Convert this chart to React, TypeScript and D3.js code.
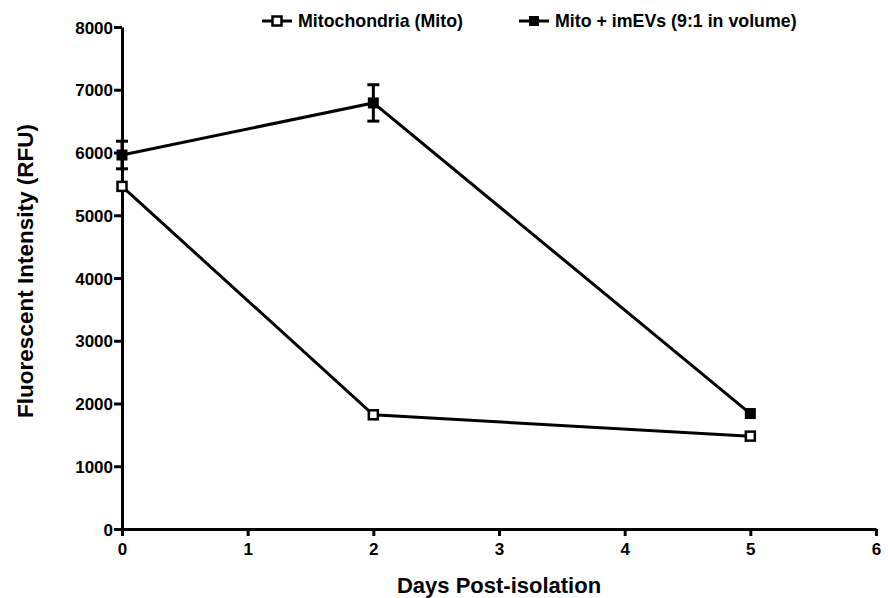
import * as d3 from "d3";
import { useEffect, useRef } from "react";

// days post-isolation
const days = [0, 2, 5];
// Mitochondria (Mito)
const mitoValues = [5460, 1820, 1480];
// Mito + imEVs (9:1 in volume), with SEM
const mixValues = [5960, 6790, 1840];
const mixErrors = [220, 290, 0];

const xTicks = [0, 1, 2, 3, 4, 5, 6];
const yTicks = [0, 1000, 2000, 3000, 4000, 5000, 6000, 7000, 8000];

const seriesNames = ["Mitochondria (Mito)", "Mito + imEVs (9:1 in volume)"];

const W = 888;
const H = 598;
const FONT = "'Liberation Sans', Arial, sans-serif";

const App = () => {
  const ref = useRef<SVGSVGElement>(null);

  useEffect(() => {
    const svg = d3.select(ref.current);
    svg.selectAll("*").remove();

    const margin = { top: 27, left: 122, right: 12, bottom: 69 };
    const x = d3.scaleLinear().domain([0, 6]).range([margin.left, W - margin.right]);
    const y = d3.scaleLinear().domain([0, 8000]).range([H - margin.bottom, margin.top]);

    // axes
    const xAxis = svg
      .append("g")
      .attr("transform", `translate(0, ${y(0)})`)
      .call(
        d3.axisBottom(x).tickValues(xTicks).tickFormat(d3.format("d"))
          .tickSize(7).tickPadding(7).tickSizeOuter(0)
      );
    const yAxis = svg
      .append("g")
      .attr("transform", `translate(${x(0)}, 0)`)
      .call(
        d3.axisLeft(y).tickValues(yTicks).tickFormat(d3.format("d"))
          .tickSize(8).tickPadding(1).tickSizeOuter(0)
      );

    [xAxis, yAxis].forEach((g) => {
      g.select(".domain").attr("stroke", "#000").attr("stroke-width", 3);
      g.selectAll(".tick line").attr("stroke", "#000").attr("stroke-width", 3);
      g.selectAll(".tick text")
        .attr("font-family", FONT)
        .attr("font-weight", "bold")
        .attr("font-size", 17)
        .attr("fill", "#000");
    });
    yAxis.selectAll(".tick text").attr("dy", "0.36em");

    // axis titles
    svg
      .append("text")
      .attr("x", (x(0) + x(6)) / 2)
      .attr("y", 593)
      .attr("text-anchor", "middle")
      .attr("font-family", FONT)
      .attr("font-weight", "bold")
      .attr("font-size", 22)
      .text("Days Post-isolation");
    svg
      .append("text")
      .attr("transform", `translate(33, 271) rotate(-90)`)
      .attr("text-anchor", "middle")
      .attr("font-family", FONT)
      .attr("font-weight", "bold")
      .attr("font-size", 22.5)
      .text("Fluorescent Intensity (RFU)");

    const line = d3
      .line<number>()
      .x((_, i) => x(days[i]))
      .y((d) => y(d));

    // error bars for the mixed series
    days.forEach((d, i) => {
      if (!mixErrors[i]) return;
      const g = svg.append("g").attr("stroke", "#000").attr("stroke-width", 3);
      g.append("line")
        .attr("x1", x(d)).attr("x2", x(d))
        .attr("y1", y(mixValues[i] + mixErrors[i]))
        .attr("y2", y(mixValues[i] - mixErrors[i]));
      [1, -1].forEach((s) =>
        g.append("line")
          .attr("x1", x(d) - 6).attr("x2", x(d) + 6)
          .attr("y1", y(mixValues[i] + s * mixErrors[i]))
          .attr("y2", y(mixValues[i] + s * mixErrors[i]))
      );
    });

    svg.append("path").datum(mitoValues).attr("d", line)
      .attr("fill", "none").attr("stroke", "#000").attr("stroke-width", 3);
    svg.append("path").datum(mixValues).attr("d", line)
      .attr("fill", "none").attr("stroke", "#000").attr("stroke-width", 3);

    const s = 9;
    svg.selectAll(".mito").data(mitoValues).enter().append("rect")
      .attr("x", (_, i) => x(days[i]) - s / 2)
      .attr("y", (d) => y(d) - s / 2)
      .attr("width", s).attr("height", s)
      .attr("fill", "#fff").attr("stroke", "#000").attr("stroke-width", 2.5);
    svg.selectAll(".mix").data(mixValues).enter().append("rect")
      .attr("x", (_, i) => x(days[i]) - s / 2 - 1)
      .attr("y", (d) => y(d) - s / 2 - 1)
      .attr("width", s + 2).attr("height", s + 2)
      .attr("fill", "#000");

    // legend
    const legendX = [262, 519];
    seriesNames.forEach((name, i) => {
      const g = svg.append("g").attr("transform", `translate(${legendX[i]}, 21)`);
      g.append("line").attr("x1", 0).attr("x2", 30).attr("y1", 0).attr("y2", 0)
        .attr("stroke", "#000").attr("stroke-width", 3);
      if (i === 0) {
        g.append("rect").attr("x", 10.5).attr("y", -4.5).attr("width", 9).attr("height", 9)
          .attr("fill", "#fff").attr("stroke", "#000").attr("stroke-width", 2.5);
      } else {
        g.append("rect").attr("x", 10).attr("y", -5).attr("width", 10).attr("height", 10)
          .attr("fill", "#000");
      }
      g.append("text")
        .attr("x", 36).attr("y", 0).attr("dy", "0.36em")
        .attr("font-family", FONT).attr("font-weight", "bold").attr("font-size", 17.8)
        .text(name);
    });
  }, []);

  return (
    <svg
      ref={ref}
      width={W}
      height={H}
      style={{ position: "absolute", left: 0, top: 0, background: "#fff" }}
    />
  );
};

export default App;
